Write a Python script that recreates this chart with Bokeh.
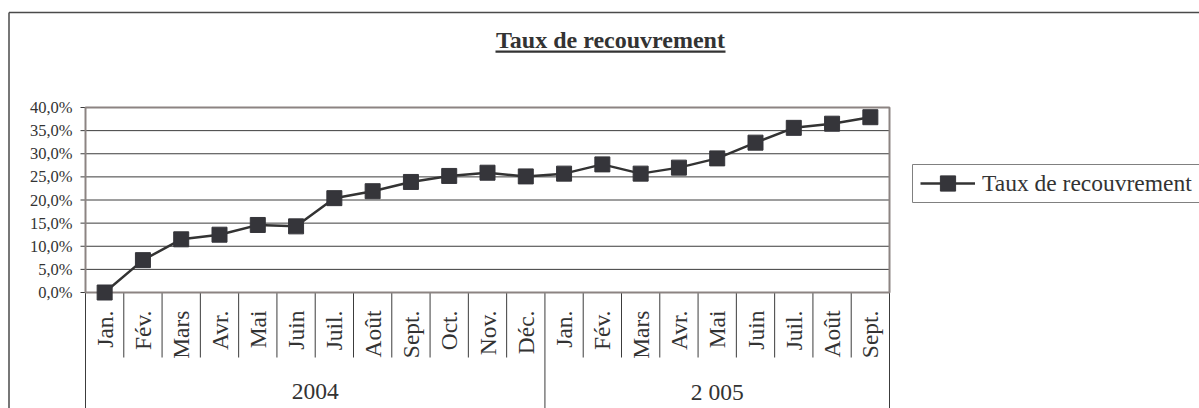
import math
from bokeh.plotting import figure
from bokeh.models import Range1d, ColumnDataSource, Legend, LegendItem
from bokeh.embed import file_html
from bokeh.resources import INLINE

# ---------------- data ----------------
years = ["2004", "2 005"]
months_2004 = ["Jan.", "Fév.", "Mars", "Avr.", "Mai", "Juin", "Juil.", "Août",
               "Sept.", "Oct.", "Nov.", "Déc."]
months_2005 = ["Jan.", "Fév.", "Mars", "Avr.", "Mai", "Juin", "Juil.", "Août", "Sept."]
taux_2004 = [0.0, 7.0, 11.5, 12.5, 14.6, 14.3, 20.4, 21.9, 23.9, 25.2, 25.9, 25.1]
taux_2005 = [25.7, 27.7, 25.7, 27.0, 29.0, 32.4, 35.6, 36.5, 37.9]
y_ticks = [0, 5, 10, 15, 20, 25, 30, 35, 40]
y_tick_labels = ["0,0%", "5,0%", "10,0%", "15,0%", "20,0%", "25,0%", "30,0%", "35,0%", "40,0%"]
series_name = "Taux de recouvrement"
title_text = "Taux de recouvrement"

# ---------------- layout / styles (pixels) ----------------
W, H = 1199, 408             # canvas
X0, Y0 = 85, 292             # canvas position of the category origin / 0 %
CAT_W = 804 / 21             # px per category
PX_Y = 4.625                 # px per 1 %
FONT = "Liberation Serif"
TXT = "#333333"
BORDER = "#8c8482"
DARK = "#3c3c3c"


def dx(px):
    return px / CAT_W


def dy(px):
    return px / PX_Y


months = months_2004 + months_2005
values = taux_2004 + taux_2005
counts = [len(months_2004), len(months_2005)]
n = len(months)
xc = [i + 0.5 for i in range(n)]          # category centres

y_bottom = -dy(H - Y0)
y_top = dy(Y0)
x_left = -dx(X0)
x_right = dx(W - X0)

p = figure(width=W, height=H, x_range=Range1d(x_left, x_right), y_range=Range1d(y_bottom, y_top),
           output_backend="svg", toolbar_location=None,
           x_axis_location=None, y_axis_location=None,
           background_fill_color="white", border_fill_color="white")
p.min_border = 0
p.outline_line_color = None
p.grid.visible = False
p.title.visible = False

# ---- outer chart border (left + top visible) ----
bx = x_left + dx(8.5)
by = y_top - dy(12)
p.segment(x0=[bx, bx], y0=[by, by], x1=[x_right + 1, bx], y1=[by, y_bottom - 1],
          line_color="#4a4a4a", line_width=1.5)

# ---- title ----
p.text(x=[dx(610 - X0)], y=[dy(Y0 - 39.5)], text=[title_text], text_align="center",
       text_baseline="middle", text_font={"value": FONT}, text_font_size="24px",
       text_font_style="bold", text_color=TXT)
p.segment(x0=[dx(495 - X0)], y0=[dy(Y0 - 51.2)], x1=[dx(725 - X0)], y1=[dy(Y0 - 51.2)],
          line_color=TXT, line_width=2.3)

# ---- grid lines ----
p.segment(x0=[0] * len(y_ticks), y0=y_ticks, x1=[n] * len(y_ticks), y1=y_ticks,
          line_color=DARK, line_width=1)

# ---- y tick marks and labels ----
p.segment(x0=[-dx(5)] * len(y_ticks), y0=y_ticks, x1=[0] * len(y_ticks), y1=y_ticks,
          line_color=DARK, line_width=1)
p.text(x=[-dx(13)] * len(y_ticks), y=y_ticks, text=y_tick_labels, text_align="right",
       text_baseline="middle", text_font={"value": FONT}, text_font_size="16.5px",
       text_color=TXT)

# ---- category table dividers ----
year_bounds = [0]
for c in counts:
    year_bounds.append(year_bounds[-1] + c)
month_only = [b for b in range(1, n) if b not in year_bounds]
p.segment(x0=month_only, y0=[0] * len(month_only), x1=month_only,
          y1=[-dy(65)] * len(month_only), line_color=DARK, line_width=1)
p.segment(x0=year_bounds, y0=[0] * len(year_bounds), x1=year_bounds,
          y1=[y_bottom - 1] * len(year_bounds), line_color=DARK, line_width=1)

# ---- plot area border ----
p.quad(left=[0], right=[n], bottom=[0], top=[40], fill_color=None,
       line_color=BORDER, line_width=2)

# ---- month labels (vertical) ----
p.text(x=xc, y=[-dy(18)] * n, text=months, angle=math.pi / 2, text_align="right",
       text_baseline="middle", text_font={"value": FONT}, text_font_size="23.5px",
       text_color=TXT)

# ---- year labels ----
year_centers = [year_bounds[i] + c / 2 for i, c in enumerate(counts)]
p.text(x=year_centers, y=[-dy(99)] * len(years), text=years, text_align="center",
       text_baseline="middle", text_font={"value": FONT}, text_font_size="23.5px",
       text_color=TXT)

# ---- legend frame ----
p.quad(left=[dx(912 - X0)], right=[x_right + 1], bottom=[dy(Y0 - 202)], top=[dy(Y0 - 164)],
       fill_color="white", line_color="#808080", line_width=1)

# ---- series ----
src = ColumnDataSource(dict(x=xc, y=values))
line_r = p.line(x="x", y="y", source=src, line_color="#333333", line_width=2.5)
sc_r = p.scatter(x="x", y="y", source=src, marker="square", size=15,
                 fill_color="#35353a", line_color="#35353a")

# ---- legend ----
legend = Legend(items=[LegendItem(label=series_name, renderers=[line_r, sc_r])],
                location=(920 - 0, H - 202), padding=0, margin=0, spacing=0,
                glyph_width=55, glyph_height=38, label_height=38, label_standoff=7,
                border_line_color=None, background_fill_alpha=0,
                label_text_font=FONT, label_text_font_size="23.5px", label_text_color=TXT)
p.add_layout(legend)

open("out.html", "w").write(file_html(p, INLINE))
